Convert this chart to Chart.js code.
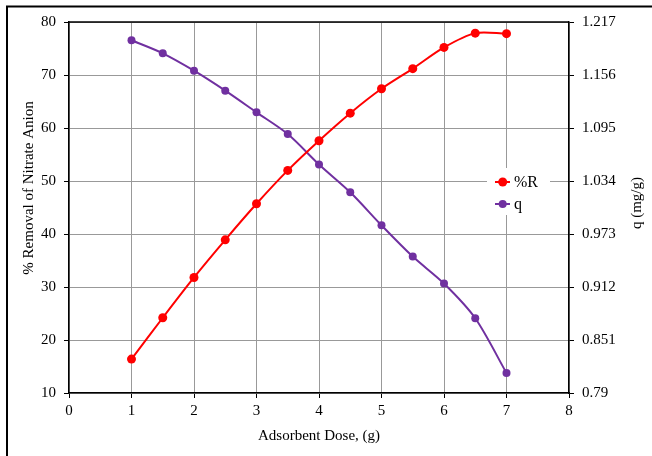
<!DOCTYPE html>
<html>
<head>
<meta charset="utf-8">
<script src="https://cdn.jsdelivr.net/npm/chart.js@4/dist/chart.umd.min.js"></script>
<style>
html,body{margin:0;padding:0;background:#fff;}
#wrap{width:652px;height:456px;position:relative;}
</style>
</head>
<body>
<div id="wrap"><canvas id="c" width="652" height="456"></canvas></div>
<script>
const doses = [1, 1.5, 2, 2.5, 3, 3.5, 4, 4.5, 5, 5.5, 6, 6.5, 7];
const removalPct = [16.4, 24.2, 31.8, 38.9, 45.7, 52.0, 57.6, 62.8, 67.4, 71.2, 75.2, 77.9, 77.8];
const qValues = [1.196, 1.181, 1.161, 1.138, 1.113, 1.088, 1.053, 1.021, 0.983, 0.947, 0.916, 0.876, 0.813];
const qTickValues = [0.79, 0.851, 0.912, 0.973, 1.034, 1.095, 1.156, 1.217];
const qTickLabels = ['0.79', '0.851', '0.912', '0.973', '1.034', '1.095', '1.156', '1.217'];
const seriesNames = ['%R', 'q'];
const xTitle = 'Adsorbent Dose, (g)';
const yLeftTitle = '% Removal of Nitrate Anion';
const yRightTitle = 'q (mg/g)';

const FONT = '"Liberation Serif", "Times New Roman", serif';
const RED = '#FF0000';
const PURPLE = '#7030A0';

const decor = {
  id: 'decor',
  afterDraw(chart) {
    const ctx = chart.ctx;
    const a = chart.chartArea;
    ctx.save();
    // plot top border
    ctx.strokeStyle = '#000';
    ctx.lineWidth = 1.5;
    ctx.beginPath();
    ctx.moveTo(a.left, a.top);
    ctx.lineTo(a.right, a.top);
    ctx.stroke();
    // outer frame (left & top)
    ctx.lineWidth = 2;
    ctx.beginPath();
    ctx.moveTo(7, 456);
    ctx.lineTo(7, 6.5);
    ctx.lineTo(652, 6.5);
    ctx.stroke();
    // axis titles
    ctx.fillStyle = '#000';
    ctx.font = '15px ' + FONT;
    ctx.textAlign = 'center';
    ctx.textBaseline = 'middle';
    ctx.fillText(xTitle, (a.left + a.right) / 2, 436);
    ctx.save();
    ctx.translate(29.5, 188);
    ctx.rotate(-Math.PI / 2);
    ctx.fillText(yLeftTitle, 0, 0);
    ctx.restore();
    ctx.save();
    ctx.translate(637, 203);
    ctx.rotate(-Math.PI / 2);
    ctx.fillText(yRightTitle, 0, 0);
    ctx.restore();
    // legend
    ctx.fillStyle = '#fff';
    ctx.fillRect(487, 168, 63, 47);
    const items = [
      {name: seriesNames[0], color: RED, y: 182, r: 4.5},
      {name: seriesNames[1], color: PURPLE, y: 204, r: 4}
    ];
    items.forEach(it => {
      ctx.strokeStyle = it.color;
      ctx.lineWidth = 2;
      ctx.beginPath();
      ctx.moveTo(495, it.y);
      ctx.lineTo(510, it.y);
      ctx.stroke();
      ctx.fillStyle = it.color;
      ctx.beginPath();
      ctx.arc(502.7, it.y, it.r, 0, Math.PI * 2);
      ctx.fill();
      ctx.fillStyle = '#000';
      ctx.font = '16px ' + FONT;
      ctx.textAlign = 'left';
      ctx.textBaseline = 'middle';
      ctx.fillText(it.name, 514, it.y + 0.5);
    });
    ctx.restore();
  }
};

new Chart(document.getElementById('c'), {
  type: 'line',
  data: {
    datasets: [
      {
        label: seriesNames[0],
        data: doses.map((d, i) => ({x: d, y: removalPct[i]})),
        yAxisID: 'y',
        borderColor: RED,
        backgroundColor: RED,
        borderWidth: 2,
        pointRadius: 4.5,
        pointBorderWidth: 0,
        pointBackgroundColor: RED,
        tension: 0.3,
        fill: false
      },
      {
        label: seriesNames[1],
        data: doses.map((d, i) => ({x: d, y: qValues[i]})),
        yAxisID: 'y1',
        borderColor: PURPLE,
        backgroundColor: PURPLE,
        borderWidth: 2,
        pointRadius: 4,
        pointBorderWidth: 0,
        pointBackgroundColor: PURPLE,
        tension: 0.3,
        fill: false
      }
    ]
  },
  options: {
    responsive: false,
    animation: false,
    layout: {padding: {top: 22, left: 0, right: 0, bottom: 0}},
    plugins: {legend: {display: false}, tooltip: {enabled: false}},
    scales: {
      x: {
        type: 'linear',
        min: 0, max: 8,
        ticks: {stepSize: 1, color: '#000', font: {family: FONT, size: 15}, padding: 4},
        grid: {color: '#999', lineWidth: 1, drawTicks: true, tickLength: 5, tickColor: '#000'},
        border: {display: true, color: '#000', width: 1.5},
        afterFit(s) { s.height = 63; }
      },
      y: {
        type: 'linear',
        position: 'left',
        min: 10, max: 80,
        ticks: {stepSize: 10, color: '#000', font: {family: FONT, size: 15}, padding: 8},
        grid: {color: '#999', lineWidth: 1, drawTicks: true, tickLength: 5, tickColor: '#000'},
        border: {display: true, color: '#000', width: 1.5},
        afterFit(s) { s.width = 69; }
      },
      y1: {
        type: 'linear',
        position: 'right',
        min: 0.79, max: 1.217,
        afterBuildTicks(s) { s.ticks = qTickValues.map(v => ({value: v})); },
        ticks: {
          color: '#000', font: {family: FONT, size: 15}, padding: 8,
          callback: (v, i) => qTickLabels[i]
        },
        grid: {display: true, drawOnChartArea: false, drawTicks: true, tickLength: 5, tickColor: '#000'},
        border: {display: true, color: '#000', width: 1.5},
        afterFit(s) { s.width = 83; }
      }
    }
  },
  plugins: [decor]
});
</script>
</body>
</html>
